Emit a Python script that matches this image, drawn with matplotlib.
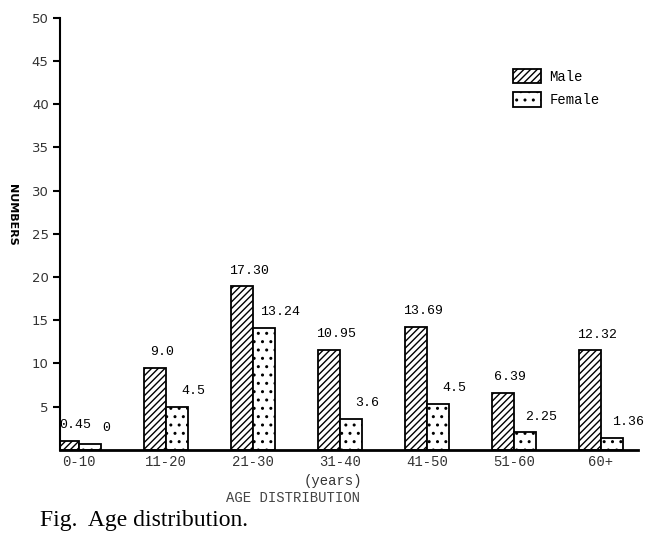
import matplotlib
matplotlib.use("Agg")
import matplotlib.pyplot as plt
import numpy as np

categories = ["0-10", "11-20", "21-30", "31-40", "41-50", "51-60", "60+"]
male_heights = [1.0, 9.5, 18.9, 11.6, 14.2, 6.6, 11.5]
female_heights = [0.7, 5.0, 14.1, 3.6, 5.3, 2.0, 1.4]
male_labels = ["0.45", "9.0", "17.30", "10.95", "13.69", "6.39", "12.32"]
female_labels = ["0", "4.5", "13.24", "3.6", "4.5", "2.25", "1.36"]
yticks = [5, 10, 15, 20, 25, 30, 35, 40, 45, 50]

plt.rcParams['hatch.linewidth'] = 1.0
mono = "Liberation Mono"

fig = plt.figure(figsize=(6.5, 5.38), dpi=100)
ax = fig.add_axes([0.092, 0.164, 0.89, 0.803])

x = np.arange(len(categories))
w = 0.25
mb = ax.bar(x - w / 2, male_heights, w, facecolor="white", edgecolor="black",
            hatch="/////", linewidth=1.3, label="Male")
fb = ax.bar(x + w / 2, female_heights, w, facecolor="white", edgecolor="black",
            hatch="..", linewidth=1.3, label="Female")

for rect, lab in zip(mb, male_labels):
    ax.annotate(lab, (rect.get_x() + rect.get_width() / 2, rect.get_height()),
                xytext=(5, 7), textcoords="offset points", ha="center",
                va="bottom", fontsize=9.5, family=mono)
for rect, lab in zip(fb, female_labels):
    ax.annotate(lab, (rect.get_x() + rect.get_width() / 2, rect.get_height()),
                xytext=(12, 7), textcoords="offset points", ha="center",
                va="bottom", fontsize=9.5, family=mono)

ax.set_xlim(-0.22, 6.43)
ax.set_ylim(0, 50)
ax.set_yticks(yticks)
ax.set_yticklabels([str(t) for t in yticks], fontsize=9.5, family="DejaVu Sans", color="#333333")
ax.set_xticks(x)
ax.set_xticklabels(categories, fontsize=10, family=mono, color="#333333")
ax.tick_params(axis="x", length=0, pad=4)
ax.tick_params(axis="y", length=5, width=1.5, direction="out", pad=3)
for s in ["top", "right"]:
    ax.spines[s].set_visible(False)
ax.spines["left"].set_linewidth(1.5)
ax.spines["bottom"].set_linewidth(2)

fig.text(0.018, 0.6, "NUMBERS", rotation=270, ha="center", va="center",
         fontsize=8, fontweight="bold", family="DejaVu Sans")
fig.text(0.512, 0.106, "(years)", ha="center", va="center", fontsize=10, family=mono, color="#333333")
fig.text(0.451, 0.074, "AGE DISTRIBUTION", ha="center", va="center", fontsize=10, family=mono, color="#444444")
fig.text(0.062, 0.033, "Fig.  Age distribution.", ha="left", va="center", fontsize=17,
         family="Liberation Serif")

leg = ax.legend(loc="upper left", bbox_to_anchor=(0.762, 0.91), frameon=False,
                prop={"family": mono, "size": 10}, handlelength=2.0, handleheight=1.2,
                labelspacing=0.6, handletextpad=0.6)

fig.savefig("out.png", dpi=100)
